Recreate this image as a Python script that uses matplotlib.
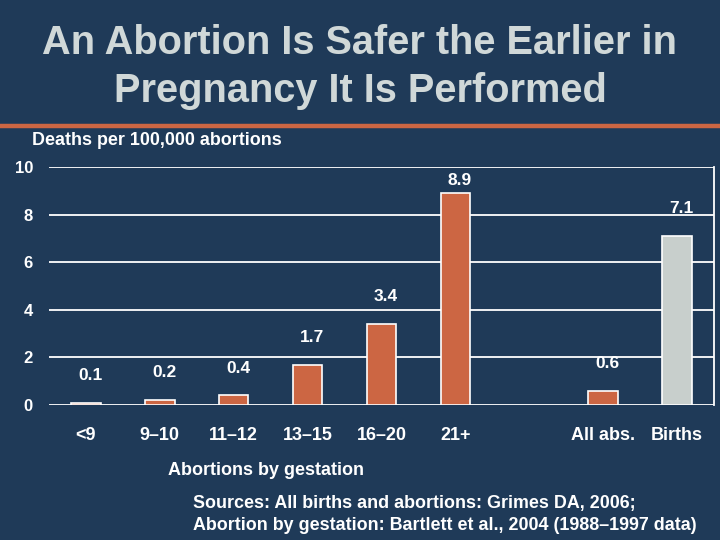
import matplotlib
matplotlib.use('Agg')
import matplotlib.pyplot as plt

plt.rcParams['font.family'] = ['Liberation Sans', 'DejaVu Sans']

# data
categories = ['<9', '9\u201310', '11\u201312', '13\u201315', '16\u201320', '21+', 'All abs.', 'Births']
positions = [0, 1, 2, 3, 4, 5, 7, 8]
deaths = [0.1, 0.2, 0.4, 1.7, 3.4, 8.9, 0.6, 7.1]
yticks = [0, 2, 4, 6, 8, 10]

bg = '#1f3a58'
orange = '#cc6643'
grey = '#c8cfcc'
colors = [orange] * 7 + [grey]

fig = plt.figure(figsize=(7.2, 5.4), dpi=100, facecolor=bg)

fig.text(0.5, 0.921, 'An Abortion Is Safer the Earlier in', ha='center', va='center',
         fontsize=28.6, fontweight='bold', color='#d0d8d8')
fig.text(0.5, 0.832, 'Pregnancy It Is Performed', ha='center', va='center',
         fontsize=28.6, fontweight='bold', color='#d0d8d8')
fig.add_artist(plt.Line2D([0, 1], [0.767, 0.767], color=orange, lw=3.2,
                          transform=fig.transFigure))

ax = fig.add_axes([0.068, 0.25, 0.9237, 0.4407])
ax.set_facecolor(bg)
ax.set_xlim(-0.5, 8.5)
ax.set_ylim(0, 10)

for y in yticks:
    ax.axhline(y, color='white', lw=1.3, zorder=1)

ax.bar(positions, deaths, width=0.4, color=colors, edgecolor='white', linewidth=1.2, zorder=2)

for x, v in zip(positions, deaths):
    ax.text(x + 0.06, min(v + 1.15, 9.42), f'{v}', ha='center', va='center',
            fontsize=12.5, fontweight='bold', color='white')

for s in ['top', 'left', 'bottom']:
    ax.spines[s].set_visible(False)
ax.spines['right'].set_color('white')
ax.spines['right'].set_linewidth(1.3)

ax.set_yticks(yticks)
ax.set_yticklabels([str(y) for y in yticks], fontsize=12, fontweight='bold', color='white')
ax.set_xticks(positions)
ax.set_xticklabels(categories, fontsize=13, fontweight='bold', color='white')
ax.tick_params(axis='both', length=0)
ax.tick_params(axis='y', pad=11.5)
ax.tick_params(axis='x', pad=16)

fig.text(0.044, 0.74, 'Deaths per 100,000 abortions', ha='left', va='center',
         fontsize=12.9, fontweight='bold', color='white')
fig.text(0.233, 0.129, 'Abortions by gestation', ha='left', va='center',
         fontsize=13, fontweight='bold', color='white')
fig.text(0.268, 0.047, 'Sources: All births and abortions: Grimes DA, 2006;\n'
         'Abortion by gestation: Bartlett et al., 2004 (1988\u20131997 data)',
         ha='left', va='center', fontsize=12.9, fontweight='bold', color='white',
         linespacing=1.38)

fig.savefig('out.png', dpi=100, facecolor=bg)
